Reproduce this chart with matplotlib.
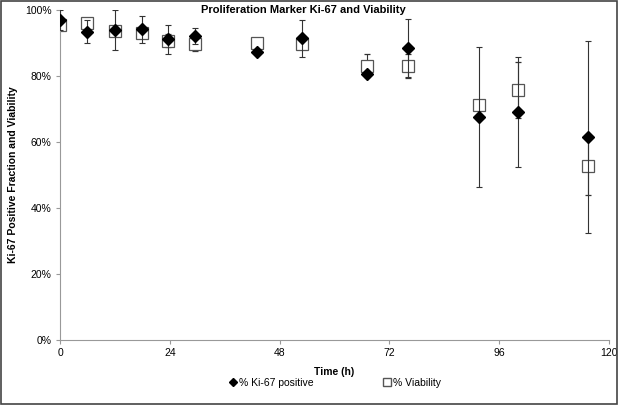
import matplotlib.pyplot as plt
import numpy as np
from matplotlib.patches import Rectangle
from matplotlib.lines import Line2D
from matplotlib.ticker import PercentFormatter

plt.rcParams['font.family'] = ['Liberation Sans', 'DejaVu Sans']

# time points (h)
time_h = [0, 6, 12, 18, 23.5, 29.5, 43, 53, 67, 76, 91.5, 100, 115.5]

# % Ki-67 positive (mean, error)
ki67 = [97.0, 93.4, 94.0, 94.1, 91.1, 92.2, 87.4, 91.4, 80.6, 88.5, 67.6, 69.0, 61.5]
ki67_err = [3.0, 3.5, 6.0, 4.0, 4.5, 2.4, 0.5, 5.6, 0.6, 8.7, 21.3, 16.7, 29.0]

# % Viability (mean, error)
viab = [95.5, 96.2, 93.7, 92.9, 90.7, 89.7, 89.9, 89.6, 83.1, 83.1, 71.2, 75.8, 52.7]
viab_err = [0.8, 0.8, 1.0, 1.0, 2.0, 2.0, 1.0, 1.0, 3.5, 3.7, 1.5, 8.5, 8.8]

fig = plt.figure(figsize=(6.19, 4.05), dpi=100)
ax = fig.add_axes([60/619, 1-340/405, 549/619, 330/405])

ax.errorbar(time_h, ki67, yerr=ki67_err, fmt='D', color='black', ms=6,
            ecolor='#333333', elinewidth=0.8, capsize=2, capthick=0.8, zorder=3)
ax.errorbar(time_h, viab, yerr=viab_err, fmt='s', mfc='white', mec='#555555',
            mew=0.9, ms=8, ecolor='#333333', elinewidth=0.8, capsize=2,
            capthick=0.8, zorder=2)

ax.set_xlim(0, 120)
ax.set_ylim(0, 100)
ax.set_xticks(np.arange(0, 121, 24))
ax.set_yticks(np.arange(0, 101, 20))
ax.yaxis.set_major_formatter(PercentFormatter(decimals=0))
for s in ['top', 'right']:
    ax.spines[s].set_visible(False)
for s in ['left', 'bottom']:
    ax.spines[s].set_color('#999999')
    ax.spines[s].set_linewidth(0.8)
ax.tick_params(labelsize=7.5, color='#999999', length=3, width=0.8, pad=3)

ax.set_xlabel('Time (h)', fontsize=7.5, fontweight='bold', labelpad=6)
ax.set_ylabel('Ki-67 Positive Fraction and Viability', fontsize=7.5,
              fontweight='bold')
ax.yaxis.set_label_coords((18 - 60) / 549, 0.5)
fig.text(0.49, 1-10/405, 'Proliferation Marker Ki-67 and Viability',
         ha='center', va='center', fontsize=8, fontweight='bold')

handles = [Line2D([], [], ls='none', marker='D', color='black', ms=4),
           Line2D([], [], ls='none', marker='s', mfc='white', mec='#555555', ms=6)]
fig.legend(handles, ['% Ki-67 positive', '% Viability'], loc='center',
           bbox_to_anchor=(0.54, 1-383/405), ncol=2, frameon=False,
           fontsize=7.5, columnspacing=6.5, handletextpad=0.1, handlelength=1.0)

fig.patches.append(Rectangle((0.002, 0.003), 0.995, 0.994, transform=fig.transFigure,
                             fill=False, edgecolor='#444444', linewidth=1.2))

fig.savefig('out.png', dpi=100)
